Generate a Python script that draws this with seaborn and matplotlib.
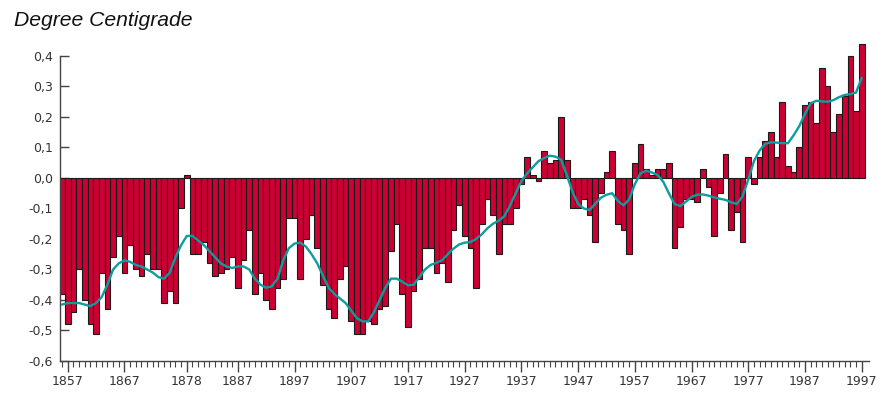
import numpy as np
import pandas as pd
import matplotlib
matplotlib.use("Agg")
import matplotlib.pyplot as plt
import seaborn as sns
from matplotlib.ticker import FixedLocator

years = list(range(1856, 1998))

anomaly = [
    -0.38, -0.48, -0.44, -0.30, -0.40, -0.48, -0.51, -0.31, -0.43, -0.26,   # 1856-1865
    -0.19, -0.31, -0.22, -0.30, -0.32, -0.25, -0.30, -0.30, -0.41, -0.37,   # 1866-1875
    -0.41, -0.10, 0.01, -0.25, -0.25, -0.21, -0.28, -0.32, -0.31, -0.30,    # 1876-1885
    -0.26, -0.36, -0.27, -0.17, -0.38, -0.31, -0.40, -0.43, -0.36, -0.33,   # 1886-1895
    -0.13, -0.13, -0.33, -0.20, -0.12, -0.23, -0.35, -0.43, -0.46, -0.33,   # 1896-1905
    -0.29, -0.47, -0.51, -0.51, -0.47, -0.48, -0.43, -0.42, -0.24, -0.15,   # 1906-1915
    -0.38, -0.49, -0.37, -0.33, -0.23, -0.23, -0.31, -0.28, -0.34, -0.17,   # 1916-1925
    -0.09, -0.19, -0.23, -0.36, -0.15, -0.07, -0.12, -0.25, -0.15, -0.15,   # 1926-1935
    -0.10, -0.02, 0.07, 0.01, -0.01, 0.09, 0.05, 0.06, 0.20, 0.06,          # 1936-1945
    -0.10, -0.10, -0.07, -0.12, -0.21, -0.05, 0.02, 0.09, -0.15, -0.17,     # 1946-1955
    -0.25, 0.05, 0.11, 0.03, 0.01, 0.03, 0.03, 0.05, -0.23, -0.16,          # 1956-1965
    -0.07, -0.07, -0.08, 0.03, -0.03, -0.19, -0.05, 0.08, -0.17, -0.11,     # 1966-1975
    -0.21, 0.07, -0.02, 0.07, 0.12, 0.15, 0.07, 0.25, 0.04, 0.02,           # 1976-1985
    0.10, 0.24, 0.25, 0.18, 0.36, 0.30, 0.15, 0.21, 0.27, 0.40,             # 1986-1995
    0.22, 0.44,                                                             # 1996-1997
]

smoothed = [
    -0.415, -0.41, -0.41, -0.41, -0.415, -0.42, -0.41, -0.39, -0.35, -0.30,      # 1856-1865
    -0.28, -0.27, -0.275, -0.285, -0.29, -0.30, -0.31, -0.325, -0.33, -0.31,     # 1866-1875
    -0.26, -0.22, -0.19, -0.19, -0.205, -0.22, -0.24, -0.26, -0.28, -0.29,       # 1876-1885
    -0.295, -0.29, -0.29, -0.30, -0.33, -0.35, -0.36, -0.355, -0.33, -0.27,      # 1886-1895
    -0.23, -0.215, -0.212, -0.225, -0.25, -0.28, -0.32, -0.36, -0.38, -0.395,    # 1896-1905
    -0.41, -0.435, -0.46, -0.47, -0.47, -0.44, -0.40, -0.36, -0.33, -0.33,       # 1906-1915
    -0.34, -0.352, -0.35, -0.325, -0.30, -0.285, -0.278, -0.27, -0.25, -0.232,   # 1916-1925
    -0.218, -0.212, -0.21, -0.20, -0.185, -0.165, -0.15, -0.14, -0.125, -0.09,   # 1926-1935
    -0.05, -0.01, 0.015, 0.035, 0.055, 0.065, 0.073, 0.07, 0.06, 0.01,           # 1936-1945
    -0.045, -0.085, -0.10, -0.105, -0.085, -0.065, -0.055, -0.05, -0.075, -0.09, # 1946-1955
    -0.07, -0.02, 0.015, 0.024, 0.018, 0.01, -0.012, -0.05, -0.085, -0.092,      # 1956-1965
    -0.078, -0.062, -0.055, -0.054, -0.058, -0.064, -0.068, -0.072, -0.08, -0.085,  # 1966-1975
    -0.06, -0.005, 0.055, 0.09, 0.112, 0.117, 0.116, 0.114, 0.114, 0.14,         # 1976-1985
    0.17, 0.21, 0.245, 0.253, 0.251, 0.25, 0.255, 0.265, 0.272, 0.275,          # 1986-1995
    0.28, 0.328,                                                                 # 1996-1997
]

xtick_years = [1857, 1867, 1878, 1887, 1897, 1907, 1917, 1927, 1937, 1947, 1957, 1967, 1977, 1987, 1997]
ytick_values = [-0.6, -0.5, -0.4, -0.3, -0.2, -0.1, 0.0, 0.1, 0.2, 0.3, 0.4]
ytick_labels = ["-0,6", "-0,5", "-0,4", "-0,3", "-0,2", "-0,1", "0,0", "0,1", "0,2", "0,3", "0,4"]
title_text = "Degree Centigrade"

sns.set_theme(style="white")
plt.rcParams["font.family"] = ["DejaVu Sans"]

df = pd.DataFrame({"year": years, "anomaly": anomaly, "smoothed": smoothed})

fig = plt.figure(figsize=(8.81, 3.96), dpi=100)
ax = fig.add_axes([60 / 881, 35 / 396, 809 / 881, 320.3 / 396])

sns.barplot(data=df, x="year", y="anomaly", native_scale=True, width=1.0,
            color="#cc0033", saturation=1, edgecolor="#1a1a1a", linewidth=0.8,
            ax=ax, zorder=2)
sns.lineplot(data=df, x="year", y="smoothed", color="#0f9c9c", linewidth=1.7,
             ax=ax, zorder=3)

ax.set_xlim(1855.64, 1998.29)
ax.set_ylim(-0.6, 0.45)

ax.xaxis.set_major_locator(FixedLocator(xtick_years))
ax.set_xticklabels([str(y) for y in xtick_years])
ax.xaxis.set_minor_locator(FixedLocator(years))
ax.set_yticks(ytick_values)
ax.set_yticklabels(ytick_labels)

ax.set_xlabel("")
ax.set_ylabel("")

for s in ["top", "right"]:
    ax.spines[s].set_visible(False)
for s in ["left", "bottom"]:
    ax.spines[s].set_color("#444444")
    ax.spines[s].set_linewidth(1.0)
ax.spines["left"].set_bounds(-0.6, 0.4)

ax.tick_params(axis="x", which="major", direction="out", length=8, width=1.0,
               color="#444444", labelsize=9, labelcolor="#333333", pad=2, bottom=True)
ax.tick_params(axis="x", which="minor", direction="out", length=4.5, width=0.8,
               color="#444444", bottom=True)
ax.tick_params(axis="y", which="major", direction="in", length=6.5, width=1.0,
               color="#444444", labelsize=9, labelcolor="#333333", pad=5, left=True)
ax.grid(False)
ax.set_facecolor("white")

fig.text(14 / 881, 1 - 25.5 / 396, title_text, fontsize=15.2, style="italic",
         family=["Liberation Sans", "DejaVu Sans"], color="#111111", va="baseline", ha="left")

fig.savefig("out.png", dpi=100, facecolor="white")
